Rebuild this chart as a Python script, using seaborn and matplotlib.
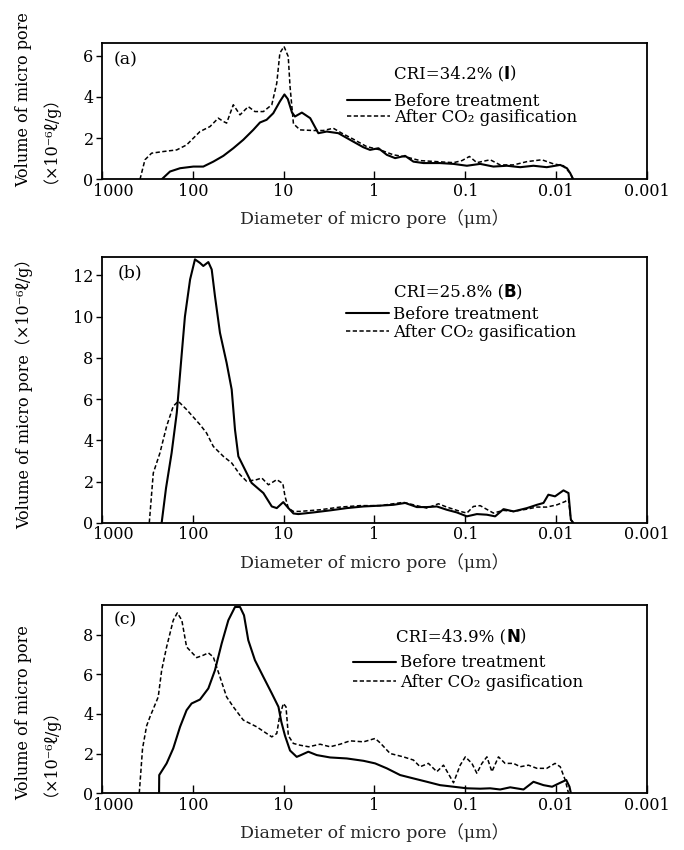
import matplotlib
matplotlib.use("Agg")
import matplotlib.pyplot as plt
from matplotlib.ticker import NullLocator
from matplotlib.transforms import ScaledTranslation
import seaborn as sns

# ---------------- data (diameter in µm, volume in 1e-6 l/g) ----------------
a_before_d = [220, 178, 138, 98.6, 76.6, 59.4, 46.1, 35.8, 27.8, 21.6,
              18.2, 15.4, 13.0, 11.0, 9.8, 9.0, 8.1, 7.5, 6.3, 5.1,
              4.15, 3.35, 2.50, 1.86, 1.33, 1.12, 0.905, 0.732, 0.593, 0.460,
              0.373, 0.289, 0.190, 0.135, 0.0962, 0.0687, 0.0491, 0.0349, 0.0249, 0.0178,
              0.0127, 0.00903, 0.00762, 0.00701, 0.00650]
a_before_v = [0, 0.38, 0.54, 0.62, 0.62, 0.86, 1.14, 1.51, 1.92, 2.40,
              2.76, 2.89, 3.21, 3.78, 4.12, 3.9, 3.25, 3.05, 3.24, 2.97,
              2.24, 2.32, 2.24, 1.92, 1.56, 1.43, 1.51, 1.19, 1.03, 1.14,
              0.86, 0.79, 0.79, 0.75, 0.66, 0.75, 0.62, 0.66, 0.59, 0.66,
              0.59, 0.70, 0.54, 0.30, 0]
a_after_d = [381, 336, 284, 211, 150, 117, 83.3, 64.7, 52.4, 46.1,
             42.4, 35.8, 30.2, 24.5, 20.7, 16.7, 13.5, 11.9, 11.0, 9.9,
             8.9, 8.5, 7.8, 6.6, 4.7, 3.66, 2.84, 2.29, 1.71, 1.22,
             0.867, 0.619, 0.441, 0.315, 0.206, 0.135, 0.109, 0.0902, 0.0747, 0.0533,
             0.0414, 0.0295, 0.0210, 0.0144, 0.0107, 0.00832, 0.00701, 0.00650]
a_after_v = [0, 0.95, 1.27, 1.35, 1.43, 1.67, 2.32, 2.56, 2.97, 2.81,
             2.73, 3.62, 3.13, 3.53, 3.29, 3.29, 3.62, 4.67, 6.13, 6.45,
             5.96, 4.5, 2.7, 2.40, 2.37, 2.37, 2.48, 2.24, 1.95, 1.59,
             1.43, 1.19, 1.08, 0.91, 0.86, 0.81, 0.91, 1.11, 0.81, 0.95,
             0.70, 0.70, 0.86, 0.95, 0.75, 0.66, 0.30, 0]

b_before_d = [220, 197, 171, 150, 132, 122, 107, 94.6, 83.4, 76.6,
              67.4, 61.9, 57.0, 50.2, 42.4, 37.3, 34.3, 31.5, 26.6, 22.5,
              16.7, 13.5, 11.9, 10.1, 8.9, 7.8, 6.9, 4.71, 3.08, 2.02,
              1.32, 0.867, 0.619, 0.460, 0.342, 0.265, 0.206, 0.160, 0.124, 0.0962,
              0.0747, 0.058, 0.047, 0.038, 0.0295, 0.0210, 0.0163, 0.0138, 0.0122, 0.0103,
              0.00832, 0.00733, 0.00690, 0.00650]
b_before_v = [0, 1.68, 3.38, 5.33, 8.24, 10.0, 11.8, 12.77, 12.6, 12.45,
              12.64, 12.28, 10.99, 9.21, 7.75, 6.46, 4.51, 3.22, 2.57, 1.93,
              1.44, 0.79, 0.71, 1.0, 0.72, 0.45, 0.42, 0.50, 0.60, 0.71,
              0.79, 0.83, 0.87, 0.96, 0.76, 0.76, 0.79, 0.63, 0.50, 0.31,
              0.42, 0.39, 0.31, 0.66, 0.55, 0.71, 0.87, 0.96, 1.36, 1.28,
              1.57, 1.44, 0.15, 0]
b_after_d = [301, 272, 230, 194, 164, 144.5, 117, 83.3, 70.5, 59.4,
             46.1, 37.3, 30.2, 25.5, 19.8, 17.4, 14.7, 11.9, 10.2, 9.66,
             8.87, 7.82, 6.6, 3.97, 2.39, 1.44, 0.867, 0.481, 0.342, 0.265,
             0.198, 0.160, 0.114, 0.0962, 0.0815, 0.0687, 0.0491, 0.038, 0.0295, 0.0210,
             0.0163, 0.0127, 0.0098, 0.00796, 0.00733, 0.00690, 0.0065]
b_after_v = [0, 2.41, 3.38, 4.68, 5.65, 5.89, 5.49, 4.76, 4.35, 3.70,
             3.22, 2.90, 2.33, 2.01, 2.09, 2.17, 1.84, 2.09, 1.9, 1.28,
             0.71, 0.55, 0.55, 0.63, 0.76, 0.83, 0.83, 0.99, 0.83, 0.71,
             0.92, 0.76, 0.55, 0.47, 0.79, 0.83, 0.47, 0.60, 0.55, 0.66,
             0.76, 0.76, 0.87, 1.03, 1.15, 0.15, 0]

c_before_d = [235, 234, 194, 164, 138, 117, 103, 83.3, 67.4, 57.0,
              48.1, 40.6, 34.3, 30.2, 27.3, 24.5, 20.7, 16.7, 13.5, 11.4,
              10.6, 9.66, 8.5, 7.18, 6.6, 5.35, 4.32, 3.08, 2.02, 1.32,
              0.984, 0.732, 0.522, 0.373, 0.265, 0.190, 0.135, 0.0962, 0.0687, 0.0533,
              0.0414, 0.0321, 0.0229, 0.0178, 0.0138, 0.0111, 0.00903, 0.00776, 0.00714, 0.0069]
c_before_v = [0, 0.91, 1.50, 2.26, 3.35, 4.19, 4.53, 4.73, 5.29, 6.21,
              7.56, 8.74, 9.41, 9.41, 8.99, 7.73, 6.72, 5.87, 5.04, 4.36,
              3.6, 2.9, 2.15, 1.83, 1.9, 2.09, 1.92, 1.80, 1.75, 1.63,
              1.50, 1.25, 0.91, 0.74, 0.57, 0.40, 0.32, 0.24, 0.22, 0.24,
              0.18, 0.29, 0.18, 0.57, 0.40, 0.32, 0.52, 0.66, 0.32, 0]
c_after_d = [388, 357, 322, 296, 240, 220, 194, 164, 148, 132,
             117, 90.6, 76.6, 67.4, 59.4, 50.2, 42.4, 35.8, 27.8, 19.8,
             13.5, 11.9, 11.1, 10.07, 9.42, 8.87, 7.82, 6.6, 5.3, 3.97,
             3.08, 2.39, 1.86, 1.32, 0.984, 0.867, 0.673, 0.481, 0.373, 0.315,
             0.255, 0.206, 0.174, 0.135, 0.114, 0.100, 0.0847, 0.0747, 0.0657, 0.0579,
             0.0510, 0.0432, 0.0365, 0.0295, 0.0249, 0.0202, 0.0163, 0.0127, 0.0103, 0.00903,
             0.00796, 0.00733]
c_after_v = [0, 2.26, 3.4, 3.85, 4.86, 6.21, 7.39, 8.74, 9.11, 8.74,
             7.39, 6.85, 6.97, 7.09, 6.88, 5.87, 4.86, 4.36, 3.69, 3.35,
             2.84, 3.01, 3.85, 4.53, 4.36, 2.9, 2.51, 2.42, 2.34, 2.47,
             2.34, 2.47, 2.64, 2.59, 2.76, 2.54, 2.0, 1.83, 1.67, 1.33,
             1.50, 1.08, 1.41, 0.52, 1.41, 1.83, 1.50, 1.0, 1.50, 1.83,
             1.08, 1.83, 1.50, 1.50, 1.33, 1.41, 1.25, 1.25, 1.50, 1.33,
             0.66, 0]

x_ticks = [1000, 100, 10, 1, 0.1, 0.01, 0.001]
x_tick_labels = ["1000", "100", "10", "1", "0.1", "0.01", "0.001"]
panel_tags = ["(a)", "(b)", "(c)"]
cri_values = ["34.2", "25.8", "43.9"]
cri_codes = ["I", "B", "N"]
y_ticks = [[0, 2, 4, 6], [0, 2, 4, 6, 8, 10, 12], [0, 2, 4, 6, 8]]
y_max = [6.6, 12.9, 9.5]
series_labels = ["Before treatment", "After CO\u2082 gasification"]

# ---------------- style ----------------
sns.set_theme(style="ticks")
plt.rcParams["font.family"] = ["DejaVu Serif", "Noto Sans CJK JP"]
plt.rcParams["axes.edgecolor"] = "black"
plt.rcParams["xtick.color"] = "black"
plt.rcParams["ytick.color"] = "black"
plt.rcParams["text.color"] = "black"

fig = plt.figure(figsize=(6.84, 8.5), dpi=100)

# axes rectangles in figure fraction: [left, bottom, width, height]
rects = [[0.149, 0.789, 0.797, 0.160],
         [0.149, 0.385, 0.797, 0.313],
         [0.149, 0.067, 0.797, 0.221]]
tag_pos = [(0.022, 0.875), (0.028, 0.94), (0.022, 0.92)]
cri_pos = [(0.535, 0.773), (0.535, 0.864), (0.540, 0.830)]
leg_pos = [(0.449, 0.515), (0.447, 0.749), (0.460, 0.641)]
leg_spacing = [-0.05, 0.1, 0.15]

data = [(a_before_d, a_before_v, a_after_d, a_after_v),
        (b_before_d, b_before_v, b_after_d, b_after_v),
        (c_before_d, c_before_v, c_after_d, c_after_v)]

for i, (bd, bv, ad, av) in enumerate(data):
    ax = fig.add_axes(rects[i])
    sns.lineplot(x=bd, y=bv, ax=ax, color="black", linewidth=1.5,
                 estimator=None, sort=False, label=series_labels[0])
    sns.lineplot(x=ad, y=av, ax=ax, color="black", linewidth=1.1,
                 linestyle=(0, (2.8, 1.6)), estimator=None, sort=False,
                 label=series_labels[1])
    ax.set_xscale("log")
    ax.set_xlim(1000, 0.001)
    ax.set_ylim(0, y_max[i])
    ax.set_xticks(x_ticks)
    ax.set_xticklabels(x_tick_labels)
    ax.xaxis.set_minor_locator(NullLocator())
    ax.set_yticks(y_ticks[i])
    ax.tick_params(axis="x", direction="in", length=6, width=1.0, pad=2.5,
                   labelsize=11.5)
    ax.tick_params(axis="y", direction="out", length=4.5, width=1.0, pad=1.5,
                   labelsize=11.5)
    # the "1000" label sits a little right of the frame corner
    first = ax.xaxis.get_major_ticks()[0].label1
    first.set_transform(first.get_transform()
                        + ScaledTranslation(11 / 100, 0, fig.dpi_scale_trans))
    for s in ax.spines.values():
        s.set_linewidth(1.3)
        s.set_color("black")
    ax.set_xlabel("Diameter of micro pore\uff08\u03bcm\uff09", fontsize=12.5,
                  labelpad=7)
    ax.set_ylabel("")

    handles, labels = ax.get_legend_handles_labels()
    ax.legend(handles, labels, loc="center left", bbox_to_anchor=leg_pos[i],
              frameon=False, fontsize=12, handlelength=2.6,
              handletextpad=0.25, borderpad=0, borderaxespad=0,
              labelspacing=leg_spacing[i])

    t1 = ax.text(cri_pos[i][0], cri_pos[i][1], f"CRI={cri_values[i]}% (",
                 transform=ax.transAxes, ha="left", va="center", fontsize=12)
    t2 = ax.annotate(cri_codes[i], xy=(1, 0), xycoords=t1, ha="left",
                     va="bottom", fontsize=12, fontweight="bold",
                     family="DejaVu Sans")
    ax.annotate(")", xy=(1, 0), xycoords=t2, ha="left", va="bottom",
                fontsize=12)

    ax.text(tag_pos[i][0], tag_pos[i][1], panel_tags[i],
            transform=ax.transAxes, ha="left", va="center", fontsize=12.5)

# y labels
ylab1 = "Volume of micro pore"
ylab2 = "\uff08\u00d710\u207b\u2076\u2113/g\uff09"
fig.text(24 / 684, 1 - 187 / 850, ylab1, rotation=90, ha="center",
         va="bottom", fontsize=11.5)
fig.text(42 / 684, 1 - 183 / 850, ylab2, rotation=90, ha="center",
         va="bottom", fontsize=11.5)
fig.text(24 / 684, 1 - 390 / 850, ylab1 + ylab2, rotation=90, ha="center",
         va="center", fontsize=11.5)
fig.text(24 / 684, 1 - 800 / 850, ylab1, rotation=90, ha="center",
         va="bottom", fontsize=11.5)
fig.text(42 / 684, 1 - 796 / 850, ylab2, rotation=90, ha="center",
         va="bottom", fontsize=11.5)

fig.savefig("out.png", dpi=100)
